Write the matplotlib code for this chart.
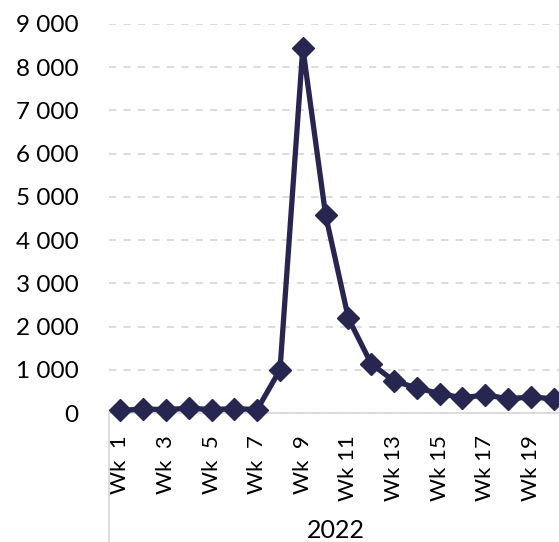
import matplotlib
matplotlib.use("Agg")
import matplotlib.pyplot as plt
from matplotlib.ticker import FuncFormatter

# data
weeks = [f"Wk {i}" if i >= 10 else f"Wk  {i}" for i in range(1, 21)]
cases = [60, 90, 80, 110, 80, 100, 80, 1000, 8450, 4580,
         2190, 1140, 740, 580, 450, 350, 420, 330, 370, 330]
year_label = "2022"

plt.rcParams['font.family'] = ['Lato', 'DejaVu Sans']

W, H = 559, 542
fig = plt.figure(figsize=(W / 100, H / 100), dpi=100)
left, right, top, bottom = 109, 565, 24, 413
ax = fig.add_axes([left / W, 1 - bottom / H, (right - left) / W, (bottom - top) / H])

x = list(range(1, len(cases) + 1))
ax.plot(x, cases, color='#262650', lw=3.8, marker='D', ms=11,
        clip_on=False, zorder=3)

ax.set_xlim(0.5, len(cases) + 0.5)
ax.set_ylim(0, 9000)
ax.set_yticks(range(0, 9001, 1000))
ax.yaxis.set_major_formatter(FuncFormatter(lambda v, p: f"{int(v):,}".replace(',', ' ')))
ax.set_xticks(x[::2])
ax.set_xticklabels(weeks[::2], rotation=90, va='top', ha='center')

ax.grid(axis='y', color='#d9d9d9', lw=1.3, ls=(0, (4, 4)))
ax.set_axisbelow(True)
for s in ['top', 'right', 'left']:
    ax.spines[s].set_visible(False)
ax.spines['bottom'].set_color('#d9d9d9')
ax.spines['bottom'].set_linewidth(1.3)
ax.tick_params(axis='y', length=0, labelsize=17.5, colors='black', pad=22)
ax.tick_params(axis='x', length=0, labelsize=16, colors='black', pad=16)

# category group divider and label
ax.plot([0, 0], [0, -(H - bottom) / (bottom - top)], transform=ax.transAxes,
        color='#d9d9d9', lw=1.3, clip_on=False)
ax.text((336 - left) / (right - left), -(530 - bottom) / (bottom - top), year_label,
        transform=ax.transAxes, ha='center', va='center', fontsize=18)

fig.savefig("out.png", dpi=100)
